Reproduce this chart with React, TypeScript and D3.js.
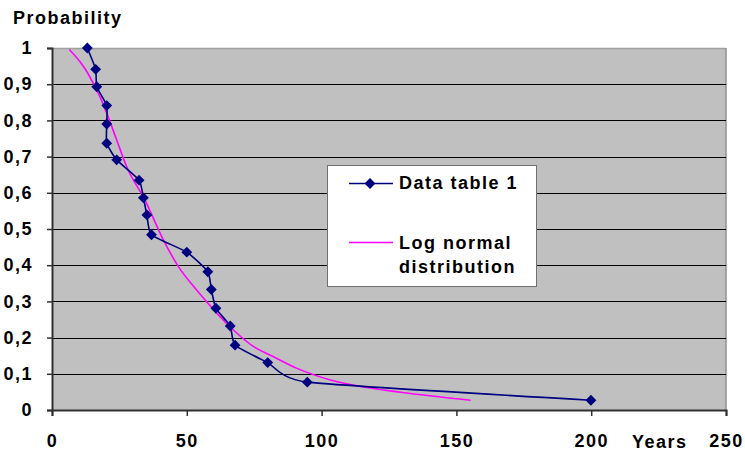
import React, { useRef, useEffect } from "react";
import * as d3 from "d3";

// observed data (years, probability)
const dataYears = [13.1, 16.2, 16.6, 20.3, 20.3, 20.3, 24.0, 32.3, 33.9, 35.2, 36.9, 50.0, 57.8, 59.1, 60.8, 66.1, 67.9, 80.0, 94.7, 199.9];
const dataProb = [1.0, 0.941, 0.893, 0.841, 0.79, 0.737, 0.691, 0.635, 0.586, 0.539, 0.484, 0.436, 0.382, 0.333, 0.281, 0.232, 0.179, 0.131, 0.077, 0.027];

// fitted log normal curve
const fitYears = [6.4, 10.4, 12.9, 15.3, 17.8, 20.3, 24.0, 27.7, 34.5, 41.3, 46.9, 53.1, 61.2, 67.3, 74.8, 82.2, 90.9, 103.3, 116.9, 129.3, 155.3];
const fitProb = [0.996, 0.962, 0.935, 0.902, 0.865, 0.82, 0.746, 0.672, 0.58, 0.47, 0.396, 0.336, 0.267, 0.221, 0.175, 0.147, 0.115, 0.083, 0.062, 0.049, 0.027];

const xTicks = [0, 50, 100, 150, 200, 250];
const yTicks = [0, 0.1, 0.2, 0.3, 0.4, 0.5, 0.6, 0.7, 0.8, 0.9, 1];

const font = "'Liberation Sans', Arial, sans-serif";
const navy = "#000080";
const pink = "#FF00FF";

export default function App() {
  const ref = useRef<SVGSVGElement>(null);

  useEffect(() => {
    const width = 745, height = 453;
    const margin = { top: 48, right: 19, bottom: 43, left: 52 };
    const w = width - margin.left - margin.right;
    const h = height - margin.top - margin.bottom;

    const svg = d3.select(ref.current);
    svg.selectAll("*").remove();
    svg.attr("width", width).attr("height", height).style("font-family", font);

    const x = d3.scaleLinear().domain([0, 250]).range([0, w]);
    const y = d3.scaleLinear().domain([0, 1]).range([h, 0]);

    const g = svg.append("g").attr("transform", `translate(${margin.left},${margin.top})`);

    // plot background
    g.append("rect").attr("width", w).attr("height", h).attr("fill", "#C0C0C0");
    g.append("line").attr("x1", 0).attr("x2", w).attr("y1", 0.5).attr("y2", 0.5).attr("stroke", "#A0A0A0").attr("stroke-width", 1.5);
    g.append("line").attr("x1", w).attr("x2", w).attr("y1", 0).attr("y2", h).attr("stroke", "#909090").attr("stroke-width", 1.5);

    // gridlines
    g.selectAll("line.grid")
      .data(yTicks.filter(d => d > 0 && d < 1))
      .join("line")
      .attr("class", "grid")
      .attr("x1", 0).attr("x2", w)
      .attr("y1", d => Math.round(y(d)) + 0.5).attr("y2", d => Math.round(y(d)) + 0.5)
      .attr("stroke", "#000").attr("stroke-width", 1.2);

    // y axis
    const yAxis = g.append("g")
      .call(d3.axisLeft(y).tickValues(yTicks).tickSize(5).tickPadding(14)
        .tickFormat(d => String(+d).replace(".", ",")));
    yAxis.select(".domain").attr("stroke", "#303030").attr("stroke-width", 2);
    yAxis.selectAll(".tick line").attr("stroke", "#303030").attr("stroke-width", 1.5);
    yAxis.selectAll("text")
      .attr("font-size", 18).attr("font-weight", "bold").attr("fill", "#000")
      .attr("font-family", font).attr("letter-spacing", 1.5);

    // x axis
    const xAxis = g.append("g")
      .attr("transform", `translate(0,${h})`)
      .call(d3.axisBottom(x).tickValues(xTicks).tickSize(6).tickPadding(18));
    xAxis.select(".domain").attr("stroke", "#303030").attr("stroke-width", 2);
    xAxis.selectAll(".tick line").attr("stroke", "#303030").attr("stroke-width", 1.5);
    xAxis.selectAll("text")
      .attr("font-size", 18).attr("font-weight", "bold").attr("fill", "#000")
      .attr("font-family", font).attr("letter-spacing", 1.5);

    // lines
    const fitPts: [number, number][] = fitYears.map((d, i) => [d, fitProb[i]]);
    const dataPts: [number, number][] = dataYears.map((d, i) => [d, dataProb[i]]);

    g.append("path")
      .datum(fitPts)
      .attr("fill", "none").attr("stroke", pink).attr("stroke-width", 1.6)
      .attr("d", d3.line<[number, number]>().x(d => x(d[0])).y(d => y(d[1])).curve(d3.curveMonotoneX));

    g.append("path")
      .datum(dataPts)
      .attr("fill", "none").attr("stroke", navy).attr("stroke-width", 1.6)
      .attr("d", d3.line<[number, number]>().x(d => x(d[0])).y(d => y(d[1])).curve(d3.curveCardinal.tension(0.5)));

    const diamond = d3.symbol().type(d3.symbolDiamond2).size(75);
    g.selectAll("path.pt")
      .data(dataPts)
      .join("path")
      .attr("class", "pt")
      .attr("transform", d => `translate(${x(d[0])},${y(d[1])})`)
      .attr("d", diamond)
      .attr("fill", navy);

    // axis titles
    svg.append("text")
      .attr("x", 13).attr("y", 24)
      .attr("font-size", 18).attr("font-weight", "bold").attr("letter-spacing", 1.5)
      .text("Probability");
    svg.append("text")
      .attr("x", 632).attr("y", 448)
      .attr("font-size", 18).attr("font-weight", "bold").attr("letter-spacing", 1.5)
      .text("Years");

    // legend
    const lg = svg.append("g").attr("transform", "translate(327,165)");
    lg.append("rect").attr("x", 0.5).attr("y", 0.5).attr("width", 209).attr("height", 121)
      .attr("fill", "#fff").attr("stroke", "#707070").attr("stroke-width", 1);
    lg.append("line").attr("x1", 22).attr("x2", 66).attr("y1", 18.5).attr("y2", 18.5)
      .attr("stroke", navy).attr("stroke-width", 1.6);
    lg.append("path").attr("transform", "translate(43,18.5)").attr("d", diamond).attr("fill", navy);
    lg.append("line").attr("x1", 22).attr("x2", 66).attr("y1", 77.5).attr("y2", 77.5)
      .attr("stroke", pink).attr("stroke-width", 1.6);
    const lt = lg.append("g").attr("font-size", 18).attr("font-weight", "bold").attr("letter-spacing", 1.5);
    lt.append("text").attr("x", 72).attr("y", 24).text("Data table 1");
    lt.append("text").attr("x", 72).attr("y", 84).text("Log normal");
    lt.append("text").attr("x", 72).attr("y", 107.5).text("distribution");
  }, []);

  return <svg ref={ref} style={{ position: "absolute", left: 0, top: 0 }}></svg>;
}
